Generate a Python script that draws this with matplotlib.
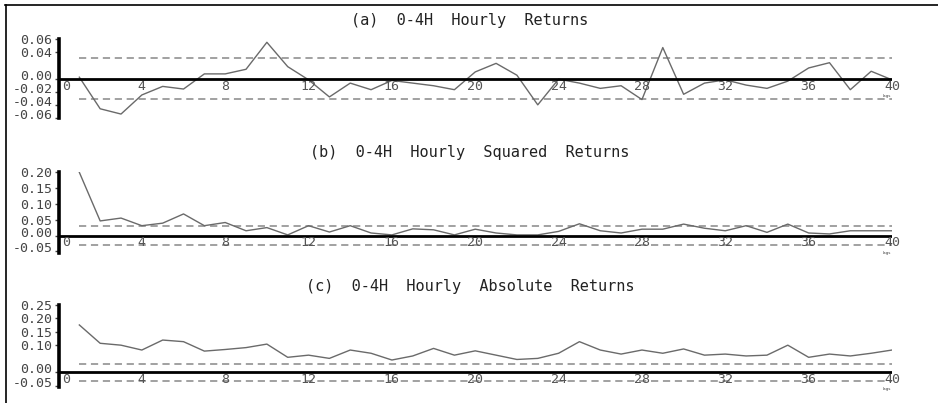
import numpy as np
import matplotlib.pyplot as plt
from matplotlib.lines import Line2D
from matplotlib.transforms import ScaledTranslation

lags = np.arange(1, 41)

# (a) returns acf
ret = [0.002, -0.046, -0.054, -0.025, -0.012, -0.016, 0.007, 0.007, 0.014, 0.055,
       0.018, -0.002, -0.028, -0.007, -0.017, -0.003, -0.007, -0.011, -0.017, 0.010,
       0.023, 0.005, -0.040, -0.001, -0.007, -0.015, -0.011, -0.032, 0.047, -0.024,
       -0.007, -0.002, -0.010, -0.015, -0.004, 0.016, 0.024, -0.017, 0.011, -0.002]
# (b) squared returns acf
sq = [0.199, 0.046, 0.055, 0.031, 0.039, 0.068, 0.031, 0.041, 0.015, 0.025,
      0.002, 0.031, 0.011, 0.031, 0.008, 0.002, 0.021, 0.018, 0.002, 0.020,
      0.008, 0.002, 0.002, 0.013, 0.037, 0.015, 0.008, 0.020, 0.020, 0.036,
      0.023, 0.015, 0.031, 0.010, 0.036, 0.008, 0.005, 0.015, 0.015, 0.015]
# (c) absolute returns acf
ab = [0.176, 0.108, 0.101, 0.083, 0.120, 0.114, 0.079, 0.085, 0.092, 0.105,
      0.056, 0.064, 0.052, 0.083, 0.071, 0.046, 0.061, 0.089, 0.064, 0.080,
      0.064, 0.048, 0.052, 0.071, 0.114, 0.083, 0.068, 0.083, 0.071, 0.087,
      0.064, 0.068, 0.061, 0.064, 0.101, 0.056, 0.068, 0.061, 0.071, 0.083]

band = 0.031
titles = ['(a)  0-4H  Hourly  Returns',
          '(b)  0-4H  Hourly  Squared  Returns',
          '(c)  0-4H  Hourly  Absolute  Returns']
yticks_a = [0.06, 0.04, 0.00, -0.02, -0.04, -0.06]
yticks_b = [0.20, 0.15, 0.10, 0.05, 0.00, -0.05]
yticks_c = [0.25, 0.20, 0.15, 0.10, 0.00, -0.05]
ylims = [(-0.06, 0.06), (-0.055, 0.201), (-0.053, 0.25)]
xticks = list(range(0, 41, 4))

W, H = 938, 403
fig = plt.figure(figsize=(W/100, H/100), dpi=100)
mono = 'DejaVu Sans Mono'

boxes = [[58.5/W, 1-118/H, 833.5/W, 79/H],
         [58.5/W, 1-253/H, 833.5/W, 81.3/H],
         [58.5/W, 1-386.7/H, 833.5/W, 81.7/H]]
title_y = [20, 153, 287]
series = [ret, sq, ab]
ytk = [yticks_a, yticks_b, yticks_c]
xlab_off = [-8, -7, -7]
up = ScaledTranslation(0, 4/100, fig.dpi_scale_trans)

for i in range(3):
    ax = fig.add_axes(boxes[i])
    ax.patch.set_visible(False)
    ax.hlines([band, -band], 1, 40, colors='#9a9a9a', linestyles=(0, (4, 2.6)), lw=1.3, zorder=1)
    ax.axhline(0, color='black', lw=2, zorder=3)
    ax.plot(lags, series[i], color='#6a6a6a', lw=1.0, zorder=2)
    ax.set_xlim(0, 40)
    ax.set_ylim(*ylims[i])
    for s in ['top', 'right', 'bottom']:
        ax.spines[s].set_visible(False)
    ax.spines['left'].set_linewidth(2.6)
    ax.set_xticks([])
    ax.set_yticks(ytk[i])
    ax.set_yticklabels(['%.2f' % v for v in ytk[i]], family=mono, fontsize=9.5, color='#444444')
    ax.tick_params(axis='y', length=3, width=1, pad=1.5, color='#444444')
    for v, lab in zip(ytk[i], ax.get_yticklabels()):
        if v <= 0:
            lab.set_transform(lab.get_transform() + up)
    for x in xticks:
        dx = 8 if x == 0 else 0
        ax.annotate(str(x), (x, 0), xytext=(dx, xlab_off[i]), textcoords='offset pixels',
                    ha='center', va='center', family=mono, fontsize=9.5, color='#555555',
                    annotation_clip=False, zorder=4)
    ax.annotate('lags', (40, 0), xytext=(-5, -17), textcoords='offset pixels',
                ha='center', va='center', fontsize=3, color='#444444', annotation_clip=False)
    fig.text(470/W, 1-title_y[i]/H, titles[i], ha='center', va='center',
             family=mono, fontsize=11, color='#222222')

# outer frame
fig.add_artist(Line2D([5/W, 1], [1-5/H, 1-5/H], transform=fig.transFigure, color='black', lw=1.2))
fig.add_artist(Line2D([6/W, 6/W], [0, 1-5/H], transform=fig.transFigure, color='black', lw=1.2))

fig.savefig('out.png', dpi=100)
